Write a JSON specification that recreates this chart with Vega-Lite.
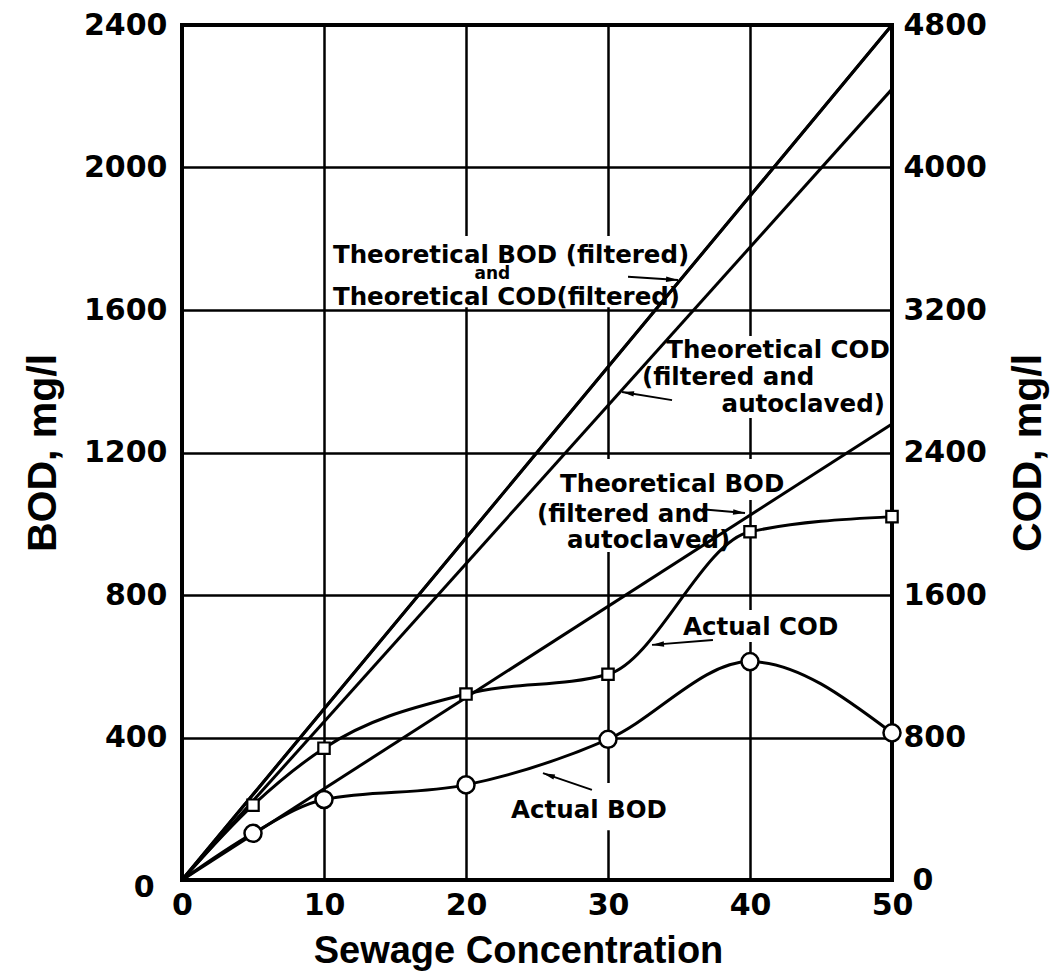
{
  "$schema": "https://vega.github.io/schema/vega-lite/v6.json",
  "width": 710,
  "height": 855,
  "autosize": {"type": "none"},
  "padding": {"left": 182, "top": 25, "right": 172, "bottom": 99},
  "background": "white",
  "config": {
    "view": {"stroke": "black", "strokeWidth": 4},
    "axis": {
      "domain": false,
      "ticks": false,
      "format": "d",
      "labelFont": "DejaVu Sans",
      "labelFontWeight": "bold",
      "labelFontSize": 30,
      "labelColor": "black",
      "labelOverlap": false,
      "labelFlush": false,
      "titleFont": "Liberation Sans",
      "titleFontWeight": "bold",
      "titleFontSize": 41,
      "titleColor": "black",
      "gridColor": "black",
      "gridWidth": 2.5,
      "gridOpacity": 1
    }
  },
  "datasets": {
    "theoreticalBOD": [
      {"curve": "Theoretical BOD (filtered)", "conc": 0, "bod": 0},
      {"curve": "Theoretical BOD (filtered)", "conc": 50, "bod": 2400},
      {"curve": "Theoretical BOD (filtered and autoclaved)", "conc": 0, "bod": 0},
      {"curve": "Theoretical BOD (filtered and autoclaved)", "conc": 50, "bod": 1280}
    ],
    "theoreticalCOD": [
      {"curve": "Theoretical COD (filtered)", "conc": 0, "cod": 0},
      {"curve": "Theoretical COD (filtered)", "conc": 50, "cod": 4800},
      {"curve": "Theoretical COD (filtered and autoclaved)", "conc": 0, "cod": 0},
      {"curve": "Theoretical COD (filtered and autoclaved)", "conc": 50, "cod": 4440}
    ],
    "actual": [
      {"conc": 0, "bod": 0, "cod": 0},
      {"conc": 5, "bod": 131, "cod": 420},
      {"conc": 10, "bod": 226, "cod": 740},
      {"conc": 20, "bod": 267, "cod": 1044},
      {"conc": 30, "bod": 395, "cod": 1155},
      {"conc": 40, "bod": 613, "cod": 1955},
      {"conc": 50, "bod": 413, "cod": 2040}
    ],
    "labelAreas": [
      {"conc": 10.42, "conc2": 34.37, "bod": 1808, "bod2": 1608},
      {"conc": 32.25, "conc2": 49.58, "bod": 1527, "bod2": 1297},
      {"conc": 24.86, "conc2": 43.17, "bod": 1182, "bod2": 1067},
      {"conc": 24.86, "conc2": 37.54, "bod": 1067, "bod2": 921},
      {"conc": 35.07, "conc2": 46.69, "bod": 758, "bod2": 668},
      {"conc": 22.75, "conc2": 34.72, "bod": 272, "bod2": 140}
    ],
    "notes": [
      {"note": "Theoretical BOD (filtered)", "conc": 10.63, "bod": 1732},
      {"note": "and", "conc": 20.6, "bod": 1687},
      {"note": "Theoretical COD(filtered)", "conc": 10.63, "bod": 1614},
      {"note": "Theoretical COD", "conc": 34.1, "bod": 1465},
      {"note": "(filtered and", "conc": 32.39, "bod": 1389},
      {"note": "autoclaved)", "conc": 38.0, "bod": 1313},
      {"note": "Theoretical BOD", "conc": 26.62, "bod": 1089},
      {"note": "(filtered and", "conc": 25.0, "bod": 1005},
      {"note": "autoclaved)", "conc": 27.11, "bod": 932},
      {"note": "Actual COD", "conc": 35.28, "bod": 688},
      {"note": "Actual BOD", "conc": 23.17, "bod": 174}
    ],
    "arrows": [
      {"conc": 31.41, "bod": 1693, "conc2": 34.93, "bod2": 1684},
      {"conc": 34.51, "bod": 1347, "conc2": 30.99, "bod2": 1370},
      {"conc": 36.62, "bod": 1041, "conc2": 39.65, "bod2": 1030},
      {"conc": 37.39, "bod": 674, "conc2": 33.1, "bod2": 660},
      {"conc": 28.87, "bod": 253, "conc2": 25.42, "bod2": 300}
    ]
  },
  "encoding": {
    "x": {
      "field": "conc",
      "type": "quantitative",
      "scale": {"domain": [0, 50], "nice": false, "zero": false},
      "axis": {
        "values": [0, 10, 20, 30, 40, 50],
        "grid": true,
        "title": "Sewage Concentration",
        "titleFontSize": 38,
        "labelPadding": 10,
        "titlePadding": 12,
        "titleX": 336
      }
    }
  },
  "layer": [
    {
      "encoding": {
        "y": {
          "field": "bod",
          "type": "quantitative",
          "scale": {"domain": [0, 2400], "nice": false},
          "axis": {
            "orient": "left",
            "values": [0, 400, 800, 1200, 1600, 2000, 2400],
            "grid": true,
            "title": "BOD, mg/l",
            "labelPadding": {"condition": {"test": "datum.value === 0", "value": 28}, "value": 15},
            "labelOffset": {"condition": {"test": "datum.value === 0", "value": 7}, "value": 0},
            "titlePadding": 19
          }
        }
      },
      "layer": [
        {
          "data": {"name": "labelAreas"},
          "mark": {"type": "rect", "color": "white", "opacity": 1},
          "encoding": {
            "x2": {"field": "conc2"},
            "y2": {"field": "bod2"}
          }
        },
        {
          "data": {"name": "theoreticalBOD"},
          "mark": {"type": "line", "color": "black", "strokeWidth": 3},
          "encoding": {"detail": {"field": "curve"}}
        },
        {
          "data": {"name": "actual"},
          "mark": {"type": "line", "color": "black", "strokeWidth": 3, "interpolate": "monotone"},
          "encoding": {}
        },
        {
          "data": {"name": "actual"},
          "transform": [{"filter": "datum.conc > 0"}],
          "mark": {"type": "point", "shape": "circle", "filled": true, "fill": "white", "stroke": "black", "strokeWidth": 2.5, "size": 290, "opacity": 1},
          "encoding": {}
        }
      ]
    },
    {
      "encoding": {
        "y": {
          "field": "cod",
          "type": "quantitative",
          "scale": {"domain": [0, 4800], "nice": false},
          "axis": {
            "orient": "right",
            "values": [0, 800, 1600, 2400, 3200, 4000, 4800],
            "grid": false,
            "title": "COD, mg/l",
            "titleAngle": 270,
            "titleBaseline": "top",
            "labelPadding": {"condition": {"test": "datum.value === 0", "value": 20}, "value": 11},
            "titlePadding": 22
          }
        }
      },
      "layer": [
        {
          "data": {"name": "theoreticalCOD"},
          "mark": {"type": "line", "color": "black", "strokeWidth": 3},
          "encoding": {"detail": {"field": "curve"}}
        },
        {
          "data": {"name": "actual"},
          "mark": {"type": "line", "color": "black", "strokeWidth": 3, "interpolate": "monotone"},
          "encoding": {}
        },
        {
          "data": {"name": "actual"},
          "transform": [{"filter": "datum.conc > 0"}],
          "mark": {"type": "point", "shape": "square", "filled": true, "fill": "white", "stroke": "black", "strokeWidth": 2.2, "size": 130, "opacity": 1},
          "encoding": {}
        }
      ]
    },
    {
      "encoding": {
        "y": {
          "field": "bod",
          "type": "quantitative",
          "scale": {"domain": [0, 2400], "nice": false},
          "axis": null
        }
      },
      "layer": [
        {
          "data": {"name": "arrows"},
          "mark": {"type": "rule", "color": "black", "strokeWidth": 2},
          "encoding": {
            "x2": {"field": "conc2"},
            "y2": {"field": "bod2"}
          }
        },
        {
          "data": {"name": "arrows"},
          "transform": [
            {"calculate": "atan2((datum.conc2 - datum.conc) * width / 50, (datum.bod2 - datum.bod) * height / 2400) * 180 / PI", "as": "heading"}
          ],
          "mark": {"type": "point", "shape": "M0,0L-0.3,1.3L0.3,1.3Z", "filled": true, "fill": "black", "strokeWidth": 0, "size": 340, "opacity": 1},
          "encoding": {
            "x": {"field": "conc2", "type": "quantitative", "title": "Sewage Concentration"},
            "y": {"field": "bod2", "type": "quantitative", "axis": null, "scale": {"domain": [0, 2400], "nice": false}},
            "angle": {"field": "heading", "type": "quantitative", "scale": null}
          }
        },
        {
          "data": {"name": "notes"},
          "mark": {"type": "text", "align": "left", "baseline": "alphabetic", "font": "DejaVu Sans", "fontWeight": "bold", "color": "black"},
          "encoding": {
            "text": {"field": "note"},
            "size": {"condition": {"test": "datum.note === 'and'", "value": 17}, "value": 24.5}
          }
        }
      ]
    }
  ],
  "resolve": {"scale": {"y": "independent"}}
}
